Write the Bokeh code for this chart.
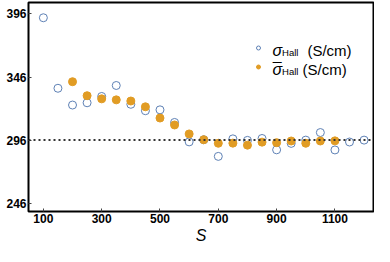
from bokeh.plotting import figure
from bokeh.models import (ColumnDataSource, FixedTicker, Span, Label, Legend, LegendItem, Range1d)
from bokeh.embed import file_html
from bokeh.resources import INLINE

# ---- data ----
s_sigma = [100, 150, 200, 250, 300, 350, 400, 450, 500, 550, 600, 650, 700, 750,
           800, 850, 900, 950, 1000, 1050, 1100, 1150, 1200]
sigma_hall = [393.0, 337.1, 323.8, 325.6, 330.6, 339.3, 324.4, 319.3, 320.0, 310.0,
              294.6, 296.3, 283.1, 297.0, 295.8, 297.3, 288.3, 293.4, 296.0, 302.0,
              288.2, 294.5, 296.0]
s_bar = [200, 250, 300, 350, 400, 450, 500, 550, 600, 650, 700, 750, 800, 850,
         900, 950, 1000, 1050, 1100]
sigma_bar = [342.3, 331.2, 328.7, 327.9, 327.0, 322.4, 313.5, 308.0, 300.9, 296.3,
             293.5, 293.6, 292.0, 294.4, 294.0, 295.3, 293.5, 295.3, 295.4]
x_ticks = [100, 300, 500, 700, 900, 1100]
y_ticks = [246, 296, 346, 396]
ref_level = 296

BLUE = "#5E81B5"
ORANGE = "#E19C24"

src1 = ColumnDataSource(dict(x=s_sigma, y=sigma_hall))
src2 = ColumnDataSource(dict(x=s_bar, y=sigma_bar))

p = figure(width=374, height=246, output_backend="svg", toolbar_location=None,
           x_range=Range1d(49, 1232.3), y_range=Range1d(239.4, 405.1),
           min_border_left=28, min_border_right=1, min_border_top=2, min_border_bottom=34)
p.background_fill_color = "white"
p.border_fill_color = "white"
p.outline_line_color = "black"
p.outline_line_width = 2
p.grid.visible = False

for ax in (p.xaxis[0], p.yaxis[0]):
    ax.axis_line_color = None
    ax.major_tick_in = 3
    ax.major_tick_out = 0
    ax.minor_tick_line_color = None
    ax.major_tick_line_color = "#444444"
    ax.major_label_text_font = "Liberation Sans"
    ax.major_label_text_font_style = "bold"
    ax.major_label_text_font_size = "12px"
    ax.major_label_text_color = "black"
p.xaxis[0].ticker = FixedTicker(ticks=x_ticks)
p.yaxis[0].ticker = FixedTicker(ticks=y_ticks)
p.xaxis[0].major_label_standoff = 2
p.yaxis[0].major_label_standoff = 2

xa = p.xaxis[0]
xa.axis_label = "S"
xa.axis_label_text_font = "Liberation Sans"
xa.axis_label_text_font_style = "italic"
xa.axis_label_text_font_size = "16px"
xa.axis_label_text_color = "black"
xa.axis_label_standoff = 1

p.add_layout(Span(location=ref_level, dimension="width", line_color="#333333",
                  line_width=2, line_dash="2 3"))

r1 = p.scatter("x", "y", source=src1, size=8, marker="circle", fill_color=None,
               line_color=BLUE, line_width=1)
r2 = p.scatter("x", "y", source=src2, size=8, marker="circle", fill_color=ORANGE,
               line_color=ORANGE)

leg = Legend(items=[LegendItem(label=" ", renderers=[r1]),
                    LegendItem(label=" ", renderers=[r2])],
             location=(225, 135), background_fill_alpha=0, border_line_color=None,
             glyph_width=10, glyph_height=19, spacing=0, padding=0, margin=0,
             label_width=1, label_text_font_size="1px")
p.add_layout(leg)

def lab(x, y, text, size, style="normal", font="Liberation Sans", align="left",
        base="alphabetic"):
    p.add_layout(Label(x=x, y=y, text=text, text_font=font,
                       text_font_size=size, text_font_style=style, text_color="black",
                       text_align=align, text_baseline=base))

# legend texts (data coordinates)
lab(885.7, 366.7, "σ", "16px", "italic")
lab(918.7, 365.2, "Hall", "9.5px")
lab(1005.7, 367.1, "(S/cm)", "15px")
lab(885.7, 351.7, "σ", "16px", "italic")
lab(887.0, 351.7, "¯", "16px")
lab(918.7, 350.6, "Hall", "9.5px")
lab(988.9, 352.1, "(S/cm)", "15px")

open("out.html", "w").write(file_html(p, INLINE))
